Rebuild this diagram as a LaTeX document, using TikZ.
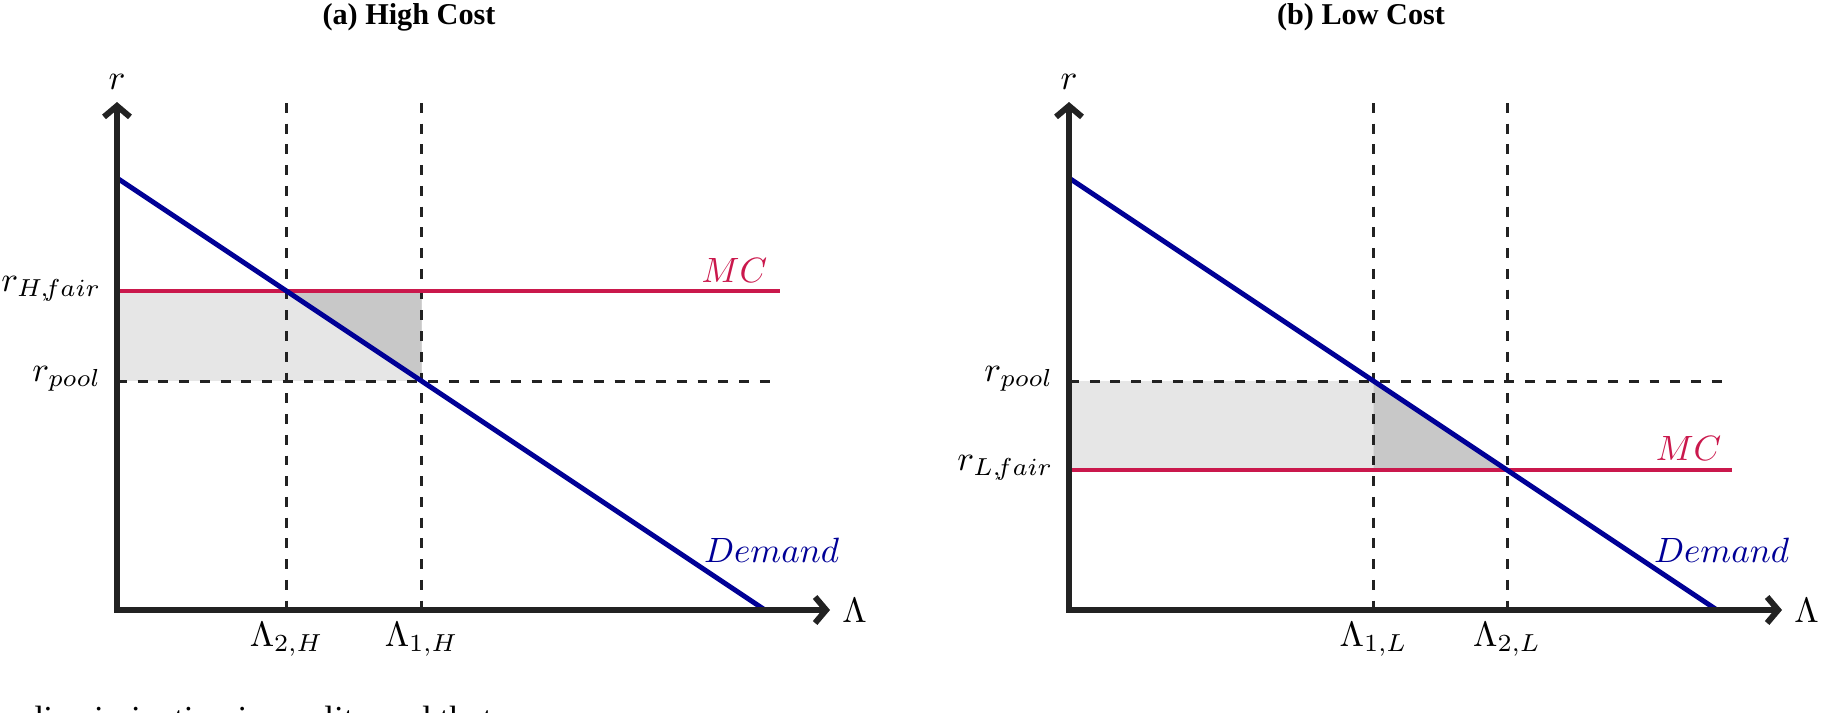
\documentclass[tikz,border=0pt]{standalone}
\usepackage{amsmath,amssymb}
\usepackage{fontspec}
\setmainfont{Liberation Serif}
\usepackage{tikz}
\usetikzlibrary{arrows.meta, positioning}

\definecolor{demandblue}{RGB}{0,0,150}
\definecolor{mcred}{RGB}{202,24,76}
\definecolor{axisgray}{RGB}{34,34,34}
\definecolor{lightfill}{RGB}{230,230,230}
\definecolor{darkfill}{RGB}{200,200,200}

\tikzset{
  axisline/.style={line width=1.7pt, draw=axisgray,
    {Straight Barb[length=1.1mm,width=2.6mm]}-{Straight Barb[length=1.1mm,width=2.6mm]}},
  guide/.style={line width=0.85pt, draw=axisgray, dash pattern=on 2.8pt off 3.1pt},
  demand/.style={line width=1.4pt, draw=demandblue},
  mcline/.style={line width=1.4pt, draw=mcred},
  lab/.style={inner sep=0pt, anchor=base east},
  paneltitle/.style={font=\fontsize{8.6}{10}\selectfont\bfseries},
}

\begin{document}
\begin{tikzpicture}
  \useasboundingbox (0,0) rectangle (18.34,7.12);
  \clip (0,0) rectangle (18.34,7.12);

  % (a) high cost
  \begin{scope}[shift={(1.17,1.02)}]
    \coordinate (oa) at (0,0);
    \coordinate (ya) at (0,5.08);
    \coordinate (xa) at (7.13,0);
    \coordinate (topa) at (0,5.07);
    \coordinate (da) at (0,4.32);
    \coordinate (ea) at (6.48,0);
    \coordinate (mcla) at (0,3.19);
    \coordinate (mcra) at (6.63,3.19);
    \coordinate (pla) at (0,2.29);
    \coordinate (pra) at (6.63,2.29);
    \coordinate (twoa) at (1.695,3.19);
    \coordinate (onea) at (3.045,2.29);

    \fill[lightfill] (pla) rectangle (onea |- mcla);
    \fill[darkfill] (twoa) -- (onea |- mcla) -- (onea) -- cycle;
    \foreach \c in {twoa, onea}
      \draw[guide] (\c |- topa) -- (\c |- oa);
    \draw[guide] (pla) -- (pra);
    \draw[mcline] (mcla) -- (mcra);
    \draw[demand] (da) -- (ea);
    \draw[axisline] (ya) -- (oa) -- (xa);

    \node[above] (ra) at (ya) {$r$};
    \node[right] (lama) at (xa) {$\Lambda$};
    \node[below] (l2a) at (twoa |- oa) {$\Lambda_{2,H}$};
    \node[below] (l1a) at (onea |- oa) {$\Lambda_{1,H}$};
    \node[lab] (rha) at (-0.15,3.19) {$r_{H,\!fair}$};
    \node[lab] (rpa) at (-0.15,2.29) {$r_{pool}$};
    \node[lab, text=mcred] (mca) at (6.51,3.28) {$MC$};
    \node[lab, text=demandblue] (dema) at (7.23,0.48) {$Demand$};
    \node[paneltitle] (ttla) at (2.92,5.93) {(a) High Cost};
  \end{scope}

  % (b) low cost
  \begin{scope}[shift={(10.69,1.02)}]
    \coordinate (ob) at (0,0);
    \coordinate (yb) at (0,5.08);
    \coordinate (xb) at (7.13,0);
    \coordinate (topb) at (0,5.07);
    \coordinate (db) at (0,4.32);
    \coordinate (eb) at (6.48,0);
    \coordinate (mclb) at (0,1.40);
    \coordinate (mcrb) at (6.63,1.40);
    \coordinate (plb) at (0,2.29);
    \coordinate (prb) at (6.63,2.29);
    \coordinate (oneb) at (3.045,2.29);
    \coordinate (twob) at (4.38,1.40);

    \fill[lightfill] (mclb) rectangle (oneb);
    \fill[darkfill] (oneb) -- (twob) -- (oneb |- mclb) -- cycle;
    \foreach \c in {oneb, twob}
      \draw[guide] (\c |- topb) -- (\c |- ob);
    \draw[guide] (plb) -- (prb);
    \draw[mcline] (mclb) -- (mcrb);
    \draw[demand] (db) -- (eb);
    \draw[axisline] (yb) -- (ob) -- (xb);

    \node[above] (rb) at (yb) {$r$};
    \node[right] (lamb) at (xb) {$\Lambda$};
    \node[below] (l1b) at (oneb |- ob) {$\Lambda_{1,L}$};
    \node[below] (l2b) at (twob |- ob) {$\Lambda_{2,L}$};
    \node[lab] (rpb) at (-0.15,2.29) {$r_{pool}$};
    \node[lab] (rlb) at (-0.15,1.40) {$r_{L,\!fair}$};
    \node[lab, text=mcred] (mcb) at (6.53,1.50) {$MC$};
    \node[lab, text=demandblue] (demb) at (7.21,0.48) {$Demand$};
    \node[paneltitle] (ttlb) at (2.92,5.93) {(b) Low Cost};
  \end{scope}

  % cut-off line of running text
  \node[inner sep=0pt, anchor=base west, font=\fontsize{10}{12}\selectfont] (body) at (0.25,-0.18) {discrimination in quality and that};
\end{tikzpicture}
\end{document}
